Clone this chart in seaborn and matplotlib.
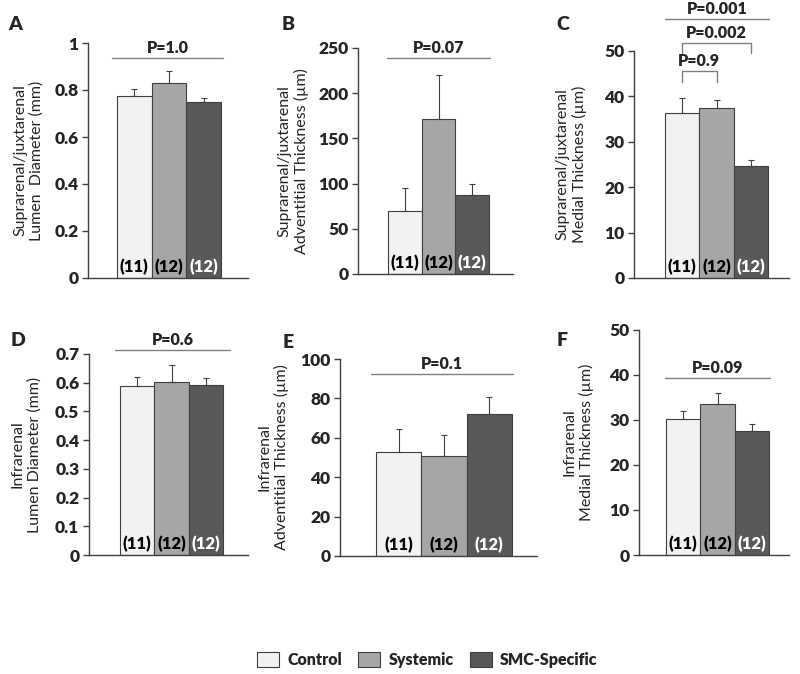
import seaborn as sns
import numpy as np
import matplotlib
matplotlib.use("Agg")
import matplotlib.pyplot as plt
from matplotlib.patches import Patch
import pandas as pd

# groups and sample sizes
groups = ["Control", "Systemic", "SMC-Specific"]
n_labels = ["(11)", "(12)", "(12)"]
colors = ["#f2f2f2", "#a6a6a6", "#595959"]

# means and SEM
lumen_supra = [0.775, 0.83, 0.75]
lumen_supra_err = [0.03, 0.05, 0.016]
adv_supra = [70, 172, 87]
adv_supra_err = [25, 48, 12.5]
med_supra = [36.3, 37.4, 24.7]
med_supra_err = [3.3, 1.8, 1.3]
lumen_infra = [0.59, 0.603, 0.593]
lumen_infra_err = [0.031, 0.06, 0.022]
adv_infra = [53, 50.7, 72.1]
adv_infra_err = [11.3, 10.7, 8.6]
med_infra = [30.2, 33.6, 27.6]
med_infra_err = [1.8, 2.4, 1.5]

p_texts = ["P=1.0", "P=0.07", "P=0.001", "P=0.6", "P=0.1", "P=0.09"]

sns.set_style("ticks")
plt.rcParams["font.family"] = ["Lato", "DejaVu Sans"]

fig = plt.figure(figsize=(8, 6.74), dpi=100)

# panel layout in pixels: axis left, axis right, top tick y, zero y, first bar left, last bar right
panels = [
    dict(letter="A", vals=lumen_supra, err=lumen_supra_err, top=1.0, step=0.2,
         ylabel="Suprarenal/juxtarenal\nLumen  Diameter (mm)", px=(88, 248, 43, 278, 117, 221),
         line=(0.936, -0.64, 2.56), labx=-0.275, letter_xy=(15, 24)),
    dict(letter="B", vals=adv_supra, err=adv_supra_err, top=250, step=50,
         ylabel="Suprarenal/juxtarenal\nAdventitial Thickness (µm)", px=(358, 513, 48, 274, 388, 489),
         line=(239, -0.53, 2.53), labx=-0.316, letter_xy=(288, 25)),
    dict(letter="C", vals=med_supra, err=med_supra_err, top=50, step=10,
         ylabel="Suprarenal/juxtarenal\nMedial Thickness (µm)", px=(634, 789, 51, 278, 665, 768),
         line=(57.0, -0.5, 2.54), labx=-0.303, letter_xy=(563, 25)),
    dict(letter="D", vals=lumen_infra, err=lumen_infra_err, top=0.7, step=0.1,
         ylabel="Infrarenal\nLumen Diameter (mm)", px=(89, 248, 354, 555, 120, 223),
         line=(0.714, -0.64, 2.71), labx=-0.30, letter_xy=(18, 340)),
    dict(letter="E", vals=adv_infra, err=adv_infra_err, top=100, step=20,
         ylabel="Infrarenal\nAdventitial Thickness (µm)", px=(340, 537, 359, 556, 376, 512),
         line=(92.4, -0.62, 2.52), labx=-0.259, letter_xy=(288, 342)),
    dict(letter="F", vals=med_infra, err=med_infra_err, top=50, step=10,
         ylabel="Infrarenal\nMedial Thickness (µm)", px=(639, 789, 330, 555, 666, 769),
         line=(39.3, -0.53, 2.53), labx=-0.30, letter_xy=(562, 340)),
]

W, H = 800, 674
line_col = "#808080"

for i, p in enumerate(panels):
    ax_l, ax_r, y_top, y0, b_l, b_r = p["px"]
    ax = fig.add_axes([ax_l / W, 1 - y0 / H, (ax_r - ax_l) / W, (y0 - y_top) / H])
    df = pd.DataFrame({"group": groups, "value": p["vals"]})
    sns.barplot(data=df, x="group", y="value", hue="group", palette=colors,
                width=1.0, edgecolor="#404040", linewidth=0.8, errorbar=None,
                legend=False, ax=ax)
    xs = np.arange(3)
    ax.errorbar(xs, p["vals"], yerr=[np.zeros(3), p["err"]], fmt="none",
                ecolor="#404040", elinewidth=0.8, capsize=2.5, capthick=0.8, zorder=1)

    # x limits so bars sit where they do in the picture
    unit = (b_r - b_l) / 3
    left = -((b_l + unit / 2) - ax_l) / unit
    right = 2 + (ax_r - (b_r - unit / 2)) / unit
    ax.set_xlim(left, right)
    ax.set_ylim(0, p["top"])
    ticks = np.arange(0, p["top"] + p["step"] / 2, p["step"])
    ax.set_yticks(ticks)
    ax.set_yticklabels(["%g" % round(t, 2) for t in ticks], fontweight="heavy", fontsize=12.5)
    ax.set_xticks([])
    ax.set_xlabel("")
    ax.set_ylabel(p["ylabel"], fontsize=11.5, linespacing=1.2)
    ax.yaxis.set_label_coords(p["labx"], 0.5)
    ax.tick_params(axis="y", length=4, width=1, color="#404040", pad=3)
    sns.despine(ax=ax)
    for s in ["left", "bottom"]:
        ax.spines[s].set_color("#404040")
        ax.spines[s].set_linewidth(1)

    # sample sizes inside bars
    for x, lab in zip(xs, n_labels):
        ax.annotate(lab, (x, 0), xytext=(0, 2), textcoords="offset points",
                    ha="center", va="bottom", fontsize=12, fontweight="heavy",
                    color="white" if x == 2 else "black")

    # overall p value line
    yl, x1, x2 = p["line"]
    ax.plot([x1, x2], [yl, yl], color=line_col, lw=1, clip_on=False)
    ax.annotate(p_texts[i], ((x1 + x2) / 2, yl), xytext=(0, 1.5), textcoords="offset points",
                ha="center", va="bottom", fontsize=11.5, fontweight="heavy", annotation_clip=False)

    if p["letter"] == "C":
        # pairwise brackets
        for (ytop, ybot, a, b, txt) in [(51.8, 49.6, 0, 2, "P=0.002"), (45.6, 43.2, 0, 1, "P=0.9")]:
            ax.plot([a, a, b, b], [ybot, ytop, ytop, ybot], color=line_col, lw=1, clip_on=False)
            ax.annotate(txt, ((a + b) / 2, ytop), xytext=(0, 1.5), textcoords="offset points",
                        ha="center", va="bottom", fontsize=11.5, fontweight="heavy",
                        annotation_clip=False)

    lx, ly = p["letter_xy"]
    fig.text(lx / W, 1 - ly / H, p["letter"], fontsize=14, fontweight="heavy",
             ha="center", va="center")

handles = [Patch(facecolor=c, edgecolor="#404040", linewidth=0.8) for c in colors]
fig.legend(handles, groups, loc="center", bbox_to_anchor=(0.534, 1 - 660 / H), ncol=3,
           frameon=False, prop={"weight": "heavy", "size": 11.5}, handlelength=1.4,
           handleheight=1.1, columnspacing=1.0, handletextpad=0.5)

fig.savefig("out.png", dpi=100)
